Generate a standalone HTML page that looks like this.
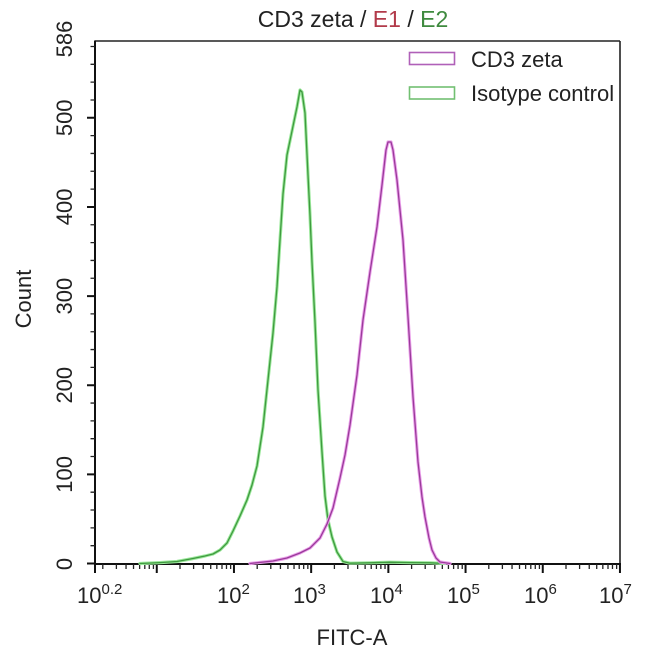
<!DOCTYPE html>
<html>
<head>
<meta charset="utf-8">
<style>
  html,body{margin:0;padding:0;background:#fff;}
  svg{display:block;}
  text{font-family:"Liberation Sans",Arial,sans-serif;fill:#222;}
</style>
</head>
<body>
<svg width="650" height="657" viewBox="0 0 650 657" xmlns="http://www.w3.org/2000/svg">
  <rect x="0" y="0" width="650" height="657" fill="#fff"/>

  <!-- Title -->
  <text x="353" y="27" font-size="23" text-anchor="middle"><tspan>CD3 zeta / </tspan><tspan style="fill:#b23a4a">E1</tspan><tspan> / </tspan><tspan style="fill:#3f8a3f">E2</tspan></text>

  <!-- Frame -->
  <line x1="95" y1="41" x2="620" y2="41" stroke="#222" stroke-width="1.6"/>
  <line x1="620" y1="41" x2="620" y2="564" stroke="#222" stroke-width="1.6"/>
  <line x1="95" y1="40.5" x2="95" y2="565" stroke="#111" stroke-width="2"/>
  <line x1="94" y1="564" x2="621" y2="564" stroke="#111" stroke-width="2"/>

  <!-- X major ticks -->
  <path d="M95 564v9 M156.76 564v9 M233.96 564v9 M311.16 564v9 M388.36 564v9 M465.56 564v9 M542.76 564v9 M619.96 564v9" stroke="#111" stroke-width="2" fill="none"/>
  <!-- X minor ticks -->
  <path d="
    M102.8 564v5 M116.39 564v5 M126.04 564v5 M133.52 564v5 M139.63 564v5 M144.8 564v5 M149.28 564v5 M153.43 564v5
    M180 564v5 M193.59 564v5 M203.24 564v5 M210.72 564v5 M216.83 564v5 M222 564v5 M226.48 564v5 M230.63 564v5
    M257.2 564v5 M270.79 564v5 M280.44 564v5 M287.92 564v5 M294.03 564v5 M299.2 564v5 M303.68 564v5 M307.83 564v5
    M334.4 564v5 M347.99 564v5 M357.64 564v5 M365.12 564v5 M371.23 564v5 M376.4 564v5 M380.88 564v5 M385.03 564v5
    M411.6 564v5 M425.19 564v5 M434.84 564v5 M442.32 564v5 M448.43 564v5 M453.6 564v5 M458.08 564v5 M462.23 564v5
    M488.8 564v5 M502.39 564v5 M512.04 564v5 M519.52 564v5 M525.63 564v5 M530.8 564v5 M535.28 564v5 M539.43 564v5
    M566 564v5 M579.59 564v5 M589.24 564v5 M596.72 564v5 M602.83 564v5 M608 564v5 M612.48 564v5 M616.63 564v5"
    stroke="#222" stroke-width="1.3" fill="none"/>

  <!-- Y major ticks -->
  <path d="M87 563.5h8 M87 474.36h8 M87 385.22h8 M87 296.08h8 M87 206.94h8 M87 117.8h8" stroke="#111" stroke-width="2" fill="none"/>
  <!-- Y minor ticks -->
  <path d="
    M90.5 545.67h4.5 M90.5 527.84h4.5 M90.5 510.02h4.5 M90.5 492.19h4.5
    M90.5 456.53h4.5 M90.5 438.7h4.5 M90.5 420.88h4.5 M90.5 403.05h4.5
    M90.5 367.39h4.5 M90.5 349.56h4.5 M90.5 331.74h4.5 M90.5 313.91h4.5
    M90.5 278.25h4.5 M90.5 260.42h4.5 M90.5 242.6h4.5 M90.5 224.77h4.5
    M90.5 189.11h4.5 M90.5 171.28h4.5 M90.5 153.46h4.5 M90.5 135.63h4.5
    M90.5 99.97h4.5 M90.5 82.14h4.5 M90.5 64.32h4.5 M90.5 46.49h4.5"
    stroke="#222" stroke-width="1.3" fill="none"/>

  <!-- Y tick labels -->
  <g font-size="22" text-anchor="middle">
    <text transform="translate(72,564) rotate(-90)">0</text>
    <text transform="translate(72,474.4) rotate(-90)">100</text>
    <text transform="translate(72,385.2) rotate(-90)">200</text>
    <text transform="translate(72,296.1) rotate(-90)">300</text>
    <text transform="translate(72,206.9) rotate(-90)">400</text>
    <text transform="translate(72,117.8) rotate(-90)">500</text>
    <text transform="translate(72,39) rotate(-90)">586</text>
  </g>
  <text transform="translate(31,299) rotate(-90)" font-size="22" text-anchor="middle">Count</text>

  <!-- X tick labels -->
  <g font-size="22">
    <text x="77" y="603">10<tspan dy="-9" font-size="15">0.2</tspan></text>
    <text x="217" y="603">10<tspan dy="-9" font-size="15">2</tspan></text>
    <text x="293" y="603">10<tspan dy="-9" font-size="15">3</tspan></text>
    <text x="370" y="603">10<tspan dy="-9" font-size="15">4</tspan></text>
    <text x="447" y="603">10<tspan dy="-9" font-size="15">5</tspan></text>
    <text x="524" y="603">10<tspan dy="-9" font-size="15">6</tspan></text>
    <text x="599" y="603">10<tspan dy="-9" font-size="15">7</tspan></text>
  </g>
  <text x="352" y="645" font-size="22" text-anchor="middle">FITC-A</text>

  <!-- Green (Isotype control) curve -->
  <g fill="none" stroke-linejoin="round" stroke-linecap="round">
    <polyline stroke="#9be89b" stroke-width="3.2" points="140,563.5 160,562.6 177,561.5 193,558.5 205,556 213,554 220,550 227,543 233,531 240,516 247,500 252,485 257,466 263,427 268,380 273,333 277,287 280,240 283,194 287,155 292,131 297,107 300,90 302,92 305,113 308,175 310,215 312,262 315,322 318,390 322,452 325,496 328,520 332,537 337,552 343,561.5 350,563.2 370,562.8 390,562.2 410,562.6 430,562.8 445,563.5"/>
    <polyline stroke="#3f9a3f" stroke-width="1.3" points="140,563.5 160,562.6 177,561.5 193,558.5 205,556 213,554 220,550 227,543 233,531 240,516 247,500 252,485 257,466 263,427 268,380 273,333 277,287 280,240 283,194 287,155 292,131 297,107 300,90 302,92 305,113 308,175 310,215 312,262 315,322 318,390 322,452 325,496 328,520 332,537 337,552 343,561.5 350,563.2 370,562.8 390,562.2 410,562.6 430,562.8 445,563.5"/>

    <!-- Magenta (CD3 zeta) curve -->
    <polyline stroke="#eaa0ea" stroke-width="3.2" points="250,563.5 273,561 287,558 300,553 310,548 320,538 327,524 333,508 340,478 345,455 350,425 357,375 363,320 370,272 377,227 382,185 386,150 388,142 391,142 393,150 397,180 403,240 408,317 413,397 418,462 422,497 425,517 429,538 432,550 436,558 440,562 450,563.5"/>
    <polyline stroke="#9a3a9a" stroke-width="1.3" points="250,563.5 273,561 287,558 300,553 310,548 320,538 327,524 333,508 340,478 345,455 350,425 357,375 363,320 370,272 377,227 382,185 386,150 388,142 391,142 393,150 397,180 403,240 408,317 413,397 418,462 422,497 425,517 429,538 432,550 436,558 440,562 450,563.5"/>
  </g>

  <!-- Legend -->
  <rect x="409.5" y="52.5" width="45" height="12" fill="#fff" stroke="#b060b8" stroke-width="1.6"/>
  <rect x="409.5" y="87" width="45" height="12" fill="#fff" stroke="#72c072" stroke-width="1.6"/>
  <text x="471" y="67" font-size="22">CD3 zeta</text>
  <text x="471" y="101" font-size="22">Isotype control</text>
</svg>
</body>
</html>
